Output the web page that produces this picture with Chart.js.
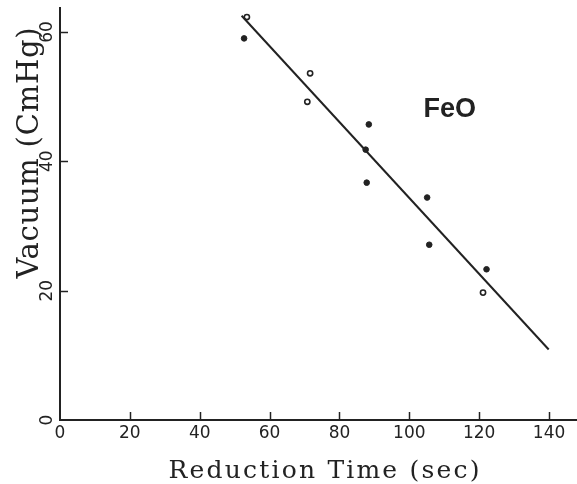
<!DOCTYPE html>
<html>
<head>
<meta charset="utf-8">
<script src="https://cdn.jsdelivr.net/npm/chart.js@4/dist/chart.umd.min.js"></script>
<style>
html,body{margin:0;padding:0;background:#fff;}
#c{display:block;}
</style>
</head>
<body>
<canvas id="c" width="577" height="484"></canvas>
<script>
// Data
const filledX = [52.7, 88.4, 87.5, 87.8, 105.1, 105.7, 122.1];
const filledY = [59.0, 45.7, 41.8, 36.7, 34.4, 27.1, 23.3];
const openX = [53.5, 71.6, 70.8, 121.1];
const openY = [62.3, 53.6, 49.2, 19.7];
const fitX = [52.0, 139.9];
const fitY = [62.5, 10.9];
const xTicks = [0, 20, 40, 60, 80, 100, 120, 140];
const yTicks = [0, 20, 40, 60];
const xTitle = 'Reduction Time (sec)';
const yTitle = 'Vacuum (CmHg)';
const compoundLabel = 'FeO';

const ink = '#222';
const toPts = (xs, ys) => xs.map((x, i) => ({x: x, y: ys[i]}));

function spacedText(ctx, text, cx, y, target) {
  ctx.letterSpacing = '0px';
  const w = ctx.measureText(text).width;
  const sp = Math.max(0, (target - w) / text.length);
  ctx.letterSpacing = sp + 'px';
  const w2 = ctx.measureText(text).width - sp;
  ctx.textAlign = 'left';
  ctx.fillText(text, cx - w2 / 2, y);
  ctx.letterSpacing = '0px';
}

const decor = {
  id: 'decor',
  afterDraw(chart) {
    const ctx = chart.ctx;
    const xs = chart.scales.x, ys = chart.scales.y;
    const a = chart.chartArea;
    ctx.save();
    ctx.strokeStyle = ink;
    ctx.fillStyle = ink;
    ctx.lineWidth = 1.5;
    // inner tick marks
    xTicks.forEach(v => {
      if (v === 0) return;
      const px = Math.round(xs.getPixelForValue(v)) + 0.5;
      ctx.beginPath(); ctx.moveTo(px, a.bottom); ctx.lineTo(px, a.bottom - 8); ctx.stroke();
    });
    yTicks.forEach(v => {
      if (v === 0) return;
      const py = Math.round(ys.getPixelForValue(v)) + 0.5;
      ctx.beginPath(); ctx.moveTo(a.left, py); ctx.lineTo(a.left + 8, py); ctx.stroke();
    });
    // x tick labels
    ctx.font = '17px "DejaVu Sans"';
    ctx.textAlign = 'center';
    ctx.textBaseline = 'middle';
    xTicks.forEach(v => {
      ctx.fillText(String(v), xs.getPixelForValue(v), a.bottom + 14);
    });
    // y tick labels (rotated)
    yTicks.forEach(v => {
      ctx.save();
      ctx.translate(a.left - 12, ys.getPixelForValue(v));
      ctx.rotate(-Math.PI / 2);
      ctx.fillText(String(v), 0, 0);
      ctx.restore();
    });
    // axis titles
    ctx.textBaseline = 'alphabetic';
    ctx.font = '25px "DejaVu Serif"';
    spacedText(ctx, xTitle, 324, 478, 313);
    ctx.save();
    ctx.translate(38, 153);
    ctx.rotate(-Math.PI / 2);
    ctx.font = '29px "DejaVu Serif"';
    spacedText(ctx, yTitle, 0, 0, 252);
    ctx.restore();
    // compound label
    ctx.font = 'bold 27px "Liberation Sans"';
    ctx.textAlign = 'center';
    ctx.textBaseline = 'middle';
    ctx.fillText(compoundLabel, xs.getPixelForValue(111.6), ys.getPixelForValue(48.0));
    ctx.restore();
  }
};

new Chart(document.getElementById('c'), {
  type: 'scatter',
  data: {
    datasets: [
      {
        type: 'line',
        data: toPts(fitX, fitY),
        borderColor: ink,
        borderWidth: 2,
        pointRadius: 0,
        fill: false,
        tension: 0
      },
      {
        data: toPts(filledX, filledY),
        pointRadius: 2.8,
        pointBackgroundColor: ink,
        pointBorderColor: ink,
        pointBorderWidth: 1
      },
      {
        data: toPts(openX, openY),
        pointRadius: 2.6,
        pointBackgroundColor: '#fff',
        pointBorderColor: ink,
        pointBorderWidth: 1.6
      }
    ]
  },
  options: {
    responsive: false,
    animation: false,
    layout: {autoPadding: false, padding: {left: 60, right: 0, top: 8, bottom: 64}},
    plugins: {legend: {display: false}, tooltip: {enabled: false}},
    scales: {
      x: {
        type: 'linear', min: 0, max: 148,
        grid: {display: false, drawTicks: false},
        ticks: {display: false},
        border: {display: true, color: ink, width: 2}
      },
      y: {
        type: 'linear', min: 0, max: 63.7,
        grid: {display: false, drawTicks: false},
        ticks: {display: false},
        border: {display: true, color: ink, width: 2}
      }
    }
  },
  plugins: [decor]
});
</script>
</body>
</html>
